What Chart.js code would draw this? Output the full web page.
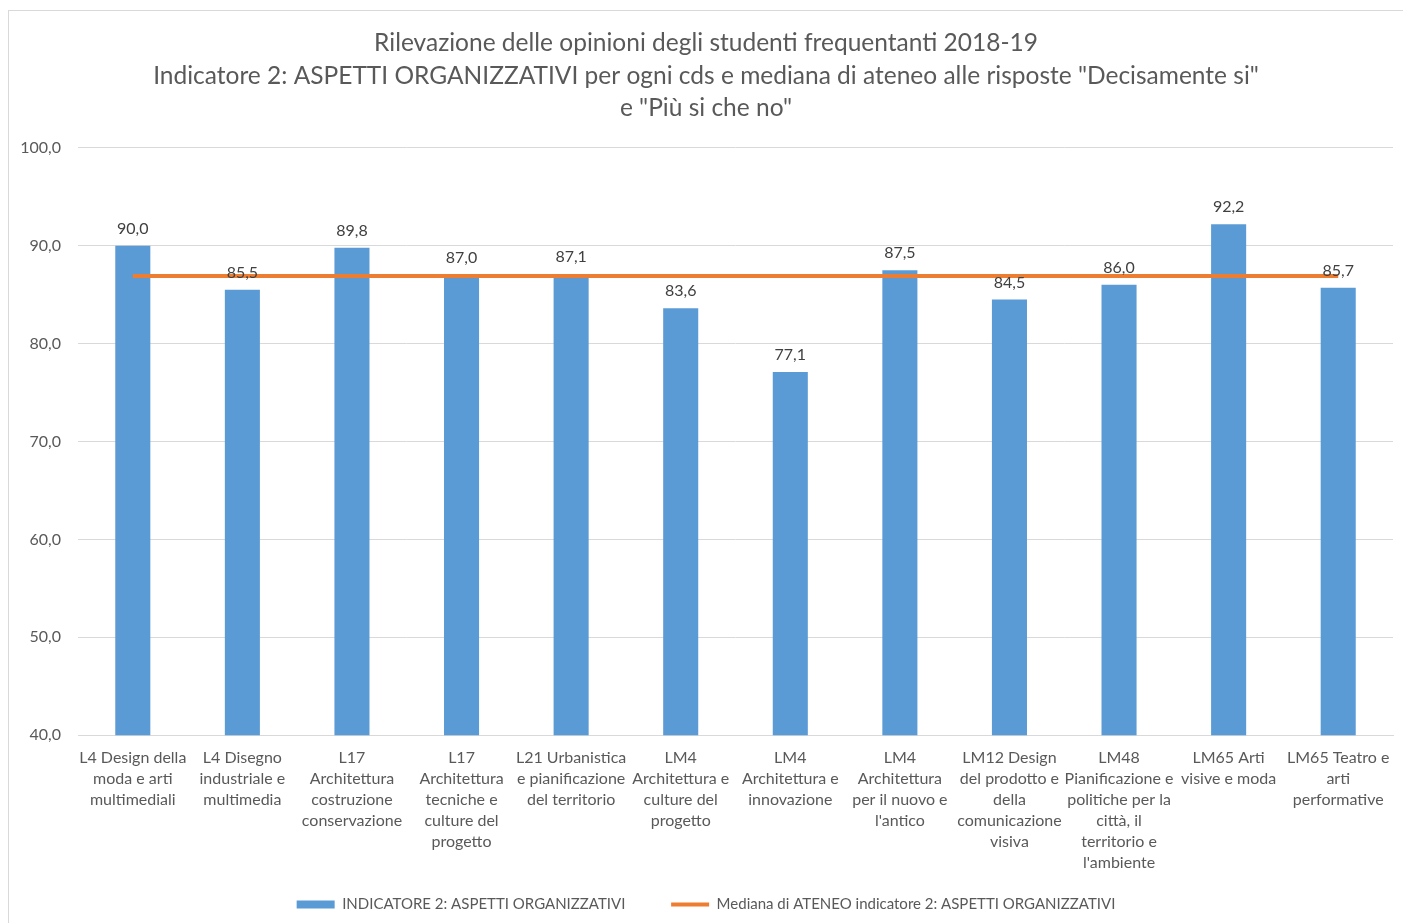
<!DOCTYPE html>
<html>
<head>
<meta charset="utf-8">
<script src="https://cdn.jsdelivr.net/npm/chart.js@4.4.1/dist/chart.umd.min.js"></script>
<style>
  html, body { margin: 0; padding: 0; background: #fff; overflow: hidden; }
  #wrap { position: absolute; left: 8px; top: 10px; width: 1396px; height: 914px; border: 1px solid #d9d9d9; box-sizing: border-box; }
  canvas { display: block; }
</style>
</head>
<body>
<div id="wrap"><canvas id="chart"></canvas></div>
<script>
const categories = [
  ['L4 Design della', 'moda e arti', 'multimediali'],
  ['L4 Disegno', 'industriale e', 'multimedia'],
  ['L17', 'Architettura', 'costruzione', 'conservazione'],
  ['L17', 'Architettura', 'tecniche e', 'culture del', 'progetto'],
  ['L21 Urbanistica', 'e pianificazione', 'del territorio'],
  ['LM4', 'Architettura e', 'culture del', 'progetto'],
  ['LM4', 'Architettura e', 'innovazione'],
  ['LM4', 'Architettura', 'per il nuovo e', "l'antico"],
  ['LM12 Design', 'del prodotto e', 'della', 'comunicazione', 'visiva'],
  ['LM48', 'Pianificazione e', 'politiche per la', 'città, il', 'territorio e', "l'ambiente"],
  ['LM65 Arti', 'visive e moda'],
  ['LM65 Teatro e', 'arti', 'performative']
];
const indicatore = [90.0, 85.5, 89.8, 87.0, 87.1, 83.6, 77.1, 87.5, 84.5, 86.0, 92.2, 85.7];
const mediana = [86.9, 86.9, 86.9, 86.9, 86.9, 86.9, 86.9, 86.9, 86.9, 86.9, 86.9, 86.9];
const titleLines = [
  'Rilevazione delle opinioni degli studenti frequentanti 2018-19',
  'Indicatore 2: ASPETTI ORGANIZZATIVI per ogni cds e mediana di ateneo alle risposte "Decisamente si"',
  'e "Più si che no"'
];

const FONT = 'Lato';
const TXT = '#595959';

const fmt = v => v.toFixed(1).replace('.', ',');

// value labels above the bars
const barLabels = {
  id: 'barLabels',
  afterDatasetsDraw(chart) {
    const ctx = chart.ctx;
    const meta = chart.getDatasetMeta(1);
    ctx.save();
    ctx.font = '16px ' + FONT;
    ctx.fillStyle = '#404040';
    ctx.textAlign = 'center';
    ctx.textBaseline = 'middle';
    meta.data.forEach((bar, i) => {
      ctx.fillText(fmt(indicatore[i]), bar.x, bar.y - 17);
    });
    ctx.restore();
  }
};

const wrap = document.getElementById('wrap');
const canvas = document.getElementById('chart');
canvas.width = wrap.clientWidth;
canvas.height = wrap.clientHeight;

new Chart(canvas.getContext('2d'), {
  data: {
    labels: categories,
    datasets: [
      {
        type: 'line',
        label: 'Mediana di ATENEO indicatore 2: ASPETTI ORGANIZZATIVI',
        data: mediana,
        borderColor: '#ED7D31',
        backgroundColor: '#ED7D31',
        borderWidth: 4,
        pointRadius: 0,
        order: 0
      },
      {
        type: 'bar',
        label: 'INDICATORE 2: ASPETTI ORGANIZZATIVI',
        data: indicatore,
        backgroundColor: '#5B9BD5',
        categoryPercentage: 1,
        barPercentage: 0.32,
        order: 1
      }
    ]
  },
  options: {
    responsive: false,
    animation: false,
    layout: { padding: { top: 16, right: 10, left: 10, bottom: 1 } },
    plugins: {
      title: {
        display: true,
        text: titleLines,
        color: TXT,
        font: { family: FONT, size: 24.5, weight: 'normal', lineHeight: 1.33 },
        padding: { top: 0, bottom: 23 }
      },
      legend: {
        position: 'bottom',
        reverse: true,
        labels: {
          color: TXT,
          font: { family: FONT, size: 15 },
          usePointStyle: true,
          pointStyleWidth: 38,
          boxHeight: 8,
          padding: 12,
          generateLabels(chart) {
            const items = Chart.defaults.plugins.legend.labels.generateLabels(chart);
            items.forEach(it => {
              if (it.datasetIndex === 1) {
                it.pointStyle = 'rect';
                it.lineWidth = 0;
                it.text += '\u2003\u2003\u2003';
              } else {
                it.pointStyle = 'line';
                it.lineWidth = 4;
              }
            });
            return items;
          }
        }
      },
      tooltip: { enabled: false }
    },
    scales: {
      x: {
        grid: { display: false, drawTicks: false },
        border: { color: '#d9d9d9' },
        ticks: {
          color: TXT,
          font: { family: FONT, size: 16, lineHeight: 1.31 },
          padding: 12,
          maxRotation: 0,
          autoSkip: false
        }
      },
      y: {
        min: 40,
        max: 100,
        afterFit: scale => { scale.width = 59; },
        grid: { color: '#d9d9d9', drawTicks: false },
        border: { display: false },
        ticks: {
          stepSize: 10,
          color: TXT,
          font: { family: FONT, size: 16 },
          padding: 17,
          callback: v => fmt(v)
        }
      }
    }
  },
  plugins: [barLabels]
});
</script>
</body>
</html>
